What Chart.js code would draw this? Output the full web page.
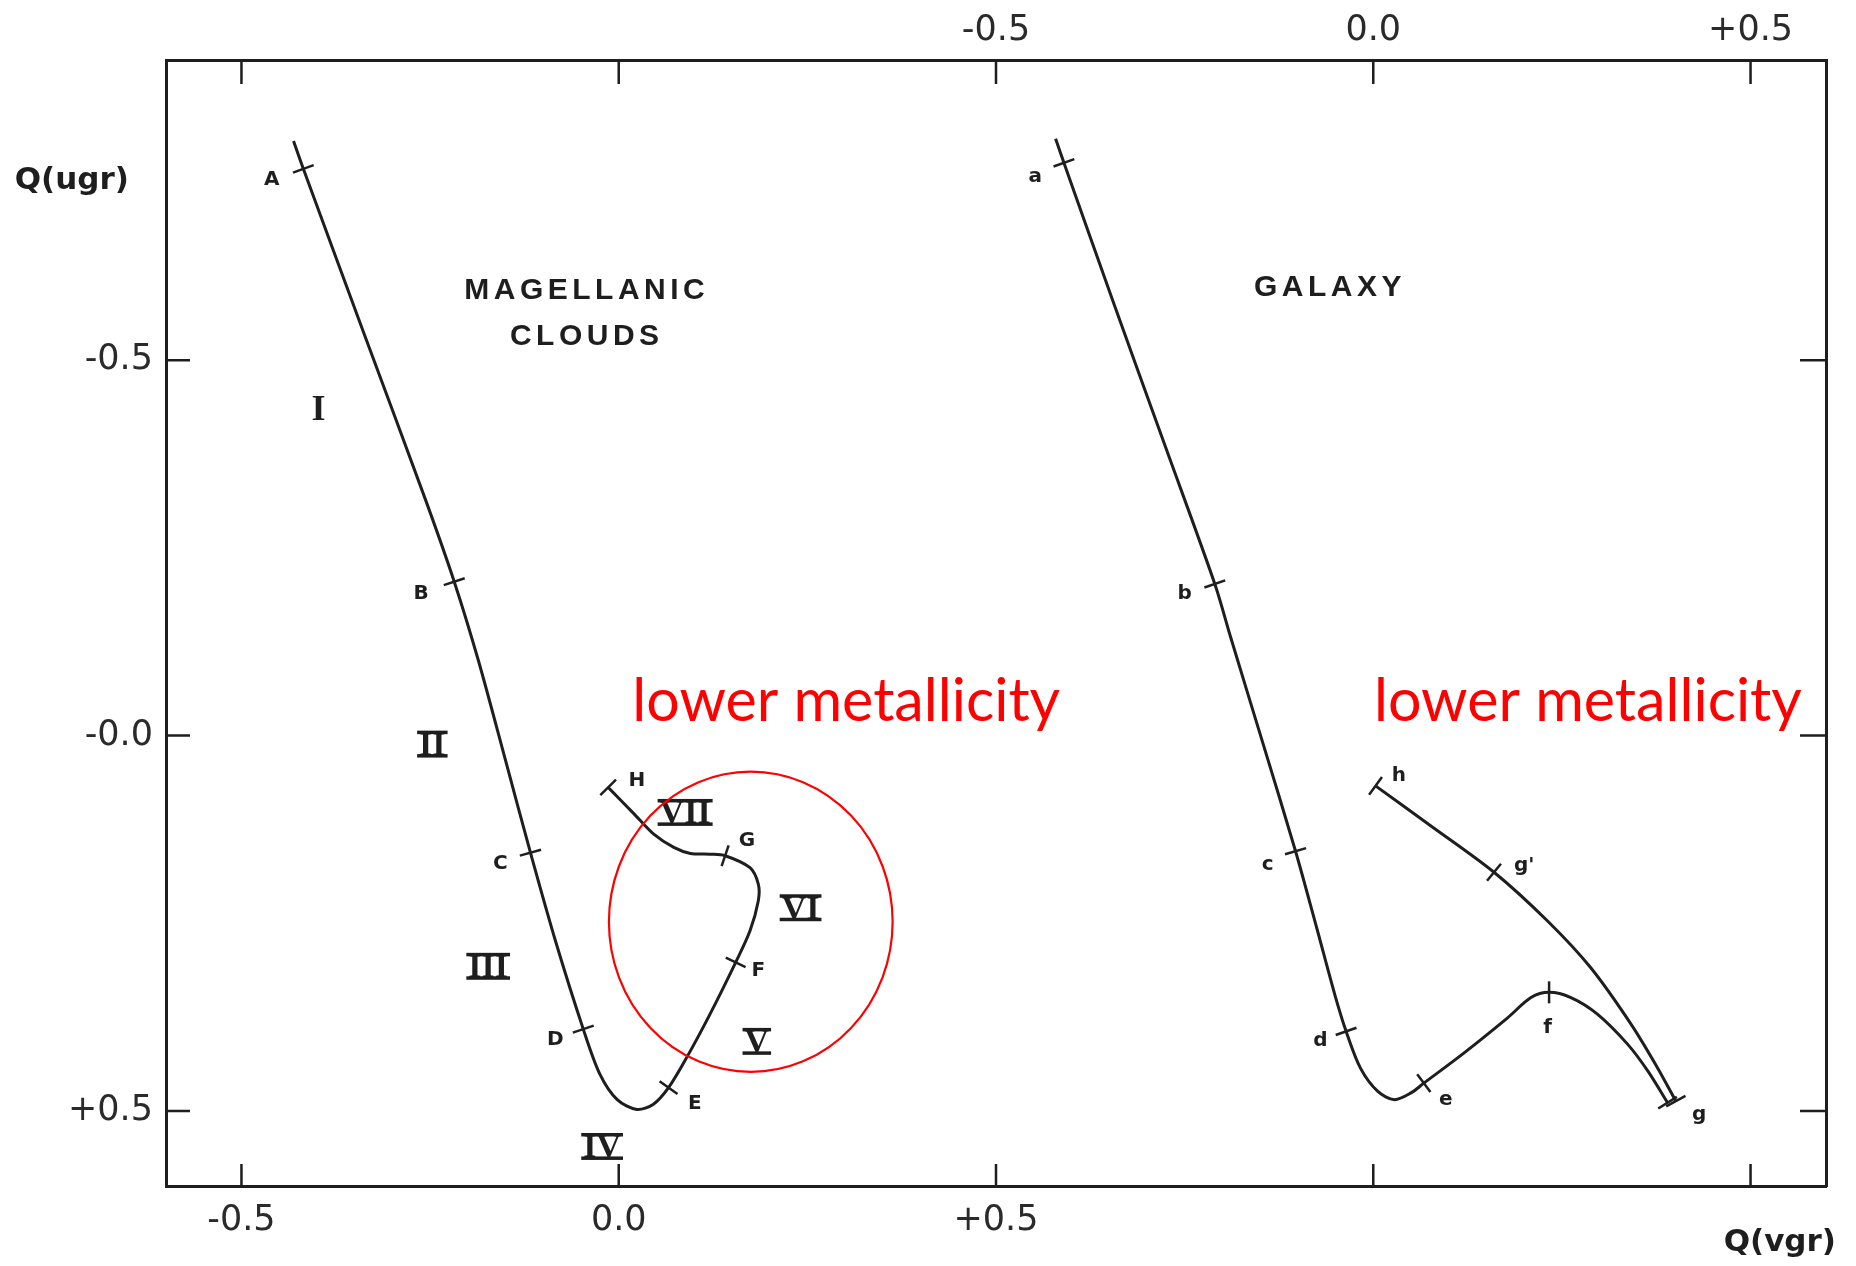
<!DOCTYPE html>
<html>
<head>
<meta charset="utf-8">
<title>Q(ugr) vs Q(vgr)</title>
<script src="https://cdn.jsdelivr.net/npm/chart.js@4.4.1/dist/chart.umd.min.js"></script>
<style>
  html, body { margin: 0; padding: 0; background: #fff; }
  #chart { display: block; }
</style>
</head>
<body>
<canvas id="chart" width="1856" height="1266"></canvas>
<script>
// axis ticks (the top axis is the Galaxy panel, shifted by one unit)
const xTickValues = [-0.5, 0.0, 0.5, 1.0, 1.5];
const xBottomLabels = ['-0.5', '0.0', '+0.5', '', ''];
const xTopLabels = ['', '', '-0.5', '0.0', '+0.5'];
const yTickValues = [-0.5, 0.0, 0.5];
const yLeftLabels = ['-0.5', '-0.0', '+0.5'];

// Magellanic Clouds sequence A..H
const mcX = [-0.431, -0.418, -0.337, -0.256, -0.218, -0.186, -0.150, -0.117, -0.084, -0.047,
             -0.025, -0.002, 0.024, 0.046, 0.066, 0.090, 0.121, 0.155, 0.174, 0.185,
             0.185, 0.174, 0.141, 0.121, 0.095, 0.073, 0.046, 0.020, -0.014];
const mcY = [-0.792, -0.755, -0.534, -0.314, -0.205, -0.100, 0.033, 0.156, 0.273, 0.391,
             0.451, 0.485, 0.498, 0.491, 0.469, 0.429, 0.371, 0.302, 0.260, 0.220,
             0.198, 0.176, 0.160, 0.158, 0.157, 0.149, 0.131, 0.104, 0.069];
const mcTickIdx = [1, 4, 7, 9, 14, 17, 22, 28];
const mcNames = ['A', 'B', 'C', 'D', 'E', 'F', 'G', 'H'];
const mcNameX = [-0.460, -0.262, -0.157, -0.084, 0.101, 0.185, 0.170, 0.024];
const mcNameY = [-0.741, -0.189, 0.171, 0.405, 0.491, 0.313, 0.140, 0.060];

// Galaxy sequence a..g
const gxX = [0.579, 0.590, 0.656, 0.723, 0.790, 0.811, 0.854, 0.897, 0.925, 0.949,
             0.964, 0.983, 1.006, 1.028, 1.050, 1.067, 1.120, 1.178, 1.209, 1.233,
             1.262, 1.297, 1.337, 1.364, 1.390];
const gxY = [-0.795, -0.763, -0.576, -0.389, -0.202, -0.131, 0.011, 0.154, 0.256, 0.345,
             0.394, 0.443, 0.474, 0.485, 0.476, 0.463, 0.423, 0.376, 0.349, 0.342,
             0.349, 0.371, 0.411, 0.447, 0.489];
const gxTickIdx = [1, 4, 7, 10, 15, 19, 24];

// Galaxy branch h..g
const hgX = [1.003, 1.076, 1.160, 1.231, 1.288, 1.342, 1.377, 1.401];
const hgY = [0.067, 0.120, 0.182, 0.247, 0.309, 0.385, 0.443, 0.487];
const hgTickIdx = [0, 2, 7];

const gxNames = ['a', 'b', 'c', 'd', 'e', 'f', 'g', "g'", 'h'];
const gxNameX = [0.552, 0.750, 0.860, 0.930, 1.096, 1.231, 1.432, 1.200, 1.034];
const gxNameY = [-0.744, -0.189, 0.172, 0.407, 0.485, 0.389, 0.505, 0.173, 0.053];

// regions
const romanText = ['I', 'II', 'III', 'IV', 'V', 'VI', 'VII'];
const romanX = [-0.398, -0.247, -0.173, -0.022, 0.183, 0.241, 0.088];
const romanY = [-0.437, 0.011, 0.307, 0.547, 0.407, 0.229, 0.102];

const panelTitles = ['MAGELLANIC', 'CLOUDS', 'GALAXY'];
const panelTitleX = [-0.045, -0.045, 0.940];
const panelTitleY = [-0.592, -0.531, -0.596];

// red overlay
const noteText = 'lower metallicity';
const noteX = [0.018, 1.001];
const noteY = [-0.020, -0.020];
const ringCenter = [0.175, 0.248];
const ringRadius = [0.188, 0.200];

const INK = '#1e1e1e';
const RED = '#ff0000';

function pts(xs, ys) {
  return xs.map((v, i) => ({ x: v, y: ys[i] }));
}

function tickPts(xs, ys, idx) {
  return idx.map(i => ({ x: xs[i], y: ys[i] }));
}

// little cross ticks stand perpendicular to the curve
function tickRotation(xs, ys, idx) {
  return function (ctx) {
    const sx = ctx.chart.scales.x, sy = ctx.chart.scales.y;
    const i = idx[ctx.dataIndex];
    const a = Math.max(i - 1, 0), b = Math.min(i + 1, xs.length - 1);
    const dx = sx.getPixelForValue(xs[b]) - sx.getPixelForValue(xs[a]);
    const dy = sy.getPixelForValue(ys[b]) - sy.getPixelForValue(ys[a]);
    return Math.atan2(dy, dx) * 180 / Math.PI + 90;
  };
}

function curve(xs, ys) {
  return {
    data: pts(xs, ys),
    showLine: true,
    tension: 0.3,
    borderColor: INK,
    borderWidth: 3,
    pointRadius: 0,
    pointHoverRadius: 0
  };
}

function ticks(xs, ys, idx) {
  return {
    data: tickPts(xs, ys, idx),
    showLine: false,
    pointStyle: 'line',
    pointRadius: 11,
    pointHoverRadius: 11,
    borderColor: INK,
    borderWidth: 2.5,
    rotation: tickRotation(xs, ys, idx)
  };
}

function tickSetter(values) {
  return function (scale) {
    scale.ticks = values.map(v => ({ value: v }));
  };
}

const labelFont = { family: '"DejaVu Sans"', size: 35 };

const overlay = {
  id: 'overlay',
  afterDraw(chart) {
    const c = chart.ctx;
    const sx = chart.scales.x, sy = chart.scales.y;
    const area = chart.chartArea;
    const X = v => sx.getPixelForValue(v);
    const Y = v => sy.getPixelForValue(v);
    c.save();

    // inward tick marks on all four sides
    c.strokeStyle = INK;
    c.lineWidth = 2.5;
    c.beginPath();
    xTickValues.forEach(v => {
      const px = X(v);
      c.moveTo(px, area.bottom); c.lineTo(px, area.bottom - 22);
      c.moveTo(px, area.top); c.lineTo(px, area.top + 24);
    });
    yTickValues.forEach(v => {
      const py = Y(v);
      c.moveTo(area.left, py); c.lineTo(area.left + 24, py);
      c.moveTo(area.right, py); c.lineTo(area.right - 26, py);
    });
    c.stroke();

    // axis titles
    c.fillStyle = INK;
    c.font = 'bold 31px "DejaVu Sans"';
    c.textBaseline = 'middle';
    c.textAlign = 'right';
    c.fillText('Q(ugr)', area.left - 37, Y(-0.739));
    c.fillText('Q(vgr)', area.right + 10, area.bottom + 57);

    // panel titles
    c.textAlign = 'center';
    c.font = 'bold 30px "Liberation Sans"';
    c.letterSpacing = '4.5px';
    panelTitles.forEach((t, i) => c.fillText(t, X(panelTitleX[i]) + 2, Y(panelTitleY[i])));
    c.letterSpacing = '0px';

    // point letters
    c.font = 'bold 20px "DejaVu Sans"';
    mcNames.forEach((t, i) => c.fillText(t, X(mcNameX[i]), Y(mcNameY[i])));
    gxNames.forEach((t, i) => c.fillText(t, X(gxNameX[i]), Y(gxNameY[i])));

    // roman numerals with over/under bars
    c.textBaseline = 'alphabetic';
    romanText.forEach((t, i) => {
      const px = X(romanX[i]), py = Y(romanY[i]);
      if (t === 'I') {
        c.font = 'bold 36px "Liberation Serif"';
        c.fillText(t, px, py + 12);
        return;
      }
      c.font = 'bold 34px "Liberation Serif"';
      const w = c.measureText(t).width;
      const cap = 34 * 0.66;
      const base = py + cap / 2;
      c.fillText(t, px, base);
      c.fillRect(px - w / 2 - 2, base - 1, w + 4, 3.5);
      c.fillRect(px - w / 2 - 2, base - cap - 2, w + 4, 3.5);
    });

    // red overlay: ring and notes
    c.strokeStyle = RED;
    c.lineWidth = 2.2;
    c.beginPath();
    c.ellipse(X(ringCenter[0]), Y(ringCenter[1]),
      X(ringCenter[0] + ringRadius[0]) - X(ringCenter[0]),
      Y(ringCenter[1] + ringRadius[1]) - Y(ringCenter[1]), 0, 0, Math.PI * 2);
    c.stroke();

    c.fillStyle = RED;
    c.textAlign = 'left';
    c.font = '56px Lato';
    const fit = 428 / c.measureText(noteText).width;
    c.font = (56 * fit).toFixed(1) + 'px Lato';
    noteX.forEach((v, i) => c.fillText(noteText, X(v), Y(noteY[i])));

    c.restore();
  }
};

new Chart(document.querySelector('#chart'), {
  type: 'scatter',
  data: {
    datasets: [
      curve(mcX, mcY),
      curve(gxX, gxY),
      curve(hgX, hgY),
      ticks(mcX, mcY, mcTickIdx),
      ticks(gxX, gxY, gxTickIdx),
      ticks(hgX, hgY, hgTickIdx)
    ]
  },
  options: {
    responsive: false,
    animation: false,
    layout: { padding: 0 },
    plugins: { legend: { display: false }, tooltip: { enabled: false } },
    scales: {
      x: {
        type: 'linear', position: 'bottom', min: -0.6, max: 1.6,
        afterBuildTicks: tickSetter(xTickValues),
        afterFit: s => { s.height = 80; },
        grid: { display: false, drawTicks: false },
        border: { display: true, color: INK, width: 3 },
        ticks: { padding: 14, color: '#2a2a2a', font: labelFont, autoSkip: false, maxRotation: 0,
          callback: (v, i) => xBottomLabels[i] }
      },
      x2: {
        type: 'linear', position: 'top', min: -0.6, max: 1.6,
        afterBuildTicks: tickSetter(xTickValues),
        afterFit: s => { s.height = 60; },
        grid: { display: false, drawTicks: false },
        border: { display: true, color: INK, width: 3 },
        ticks: { padding: 8, color: '#2a2a2a', font: labelFont, autoSkip: false, maxRotation: 0,
          callback: (v, i) => xTopLabels[i] }
      },
      y: {
        type: 'linear', position: 'left', min: -0.9, max: 0.6, reverse: true,
        afterBuildTicks: tickSetter(yTickValues),
        afterFit: s => { s.width = 166; },
        grid: { display: false, drawTicks: false },
        border: { display: true, color: INK, width: 3 },
        ticks: { padding: 13, color: '#2a2a2a', font: labelFont, autoSkip: false,
          callback: (v, i) => yLeftLabels[i] }
      },
      y2: {
        type: 'linear', position: 'right', min: -0.9, max: 0.6, reverse: true,
        afterBuildTicks: tickSetter(yTickValues),
        afterFit: s => { s.width = 30; },
        grid: { display: false, drawTicks: false },
        border: { display: true, color: INK, width: 3 },
        ticks: { display: false }
      }
    }
  },
  plugins: [overlay]
});
</script>
</body>
</html>
